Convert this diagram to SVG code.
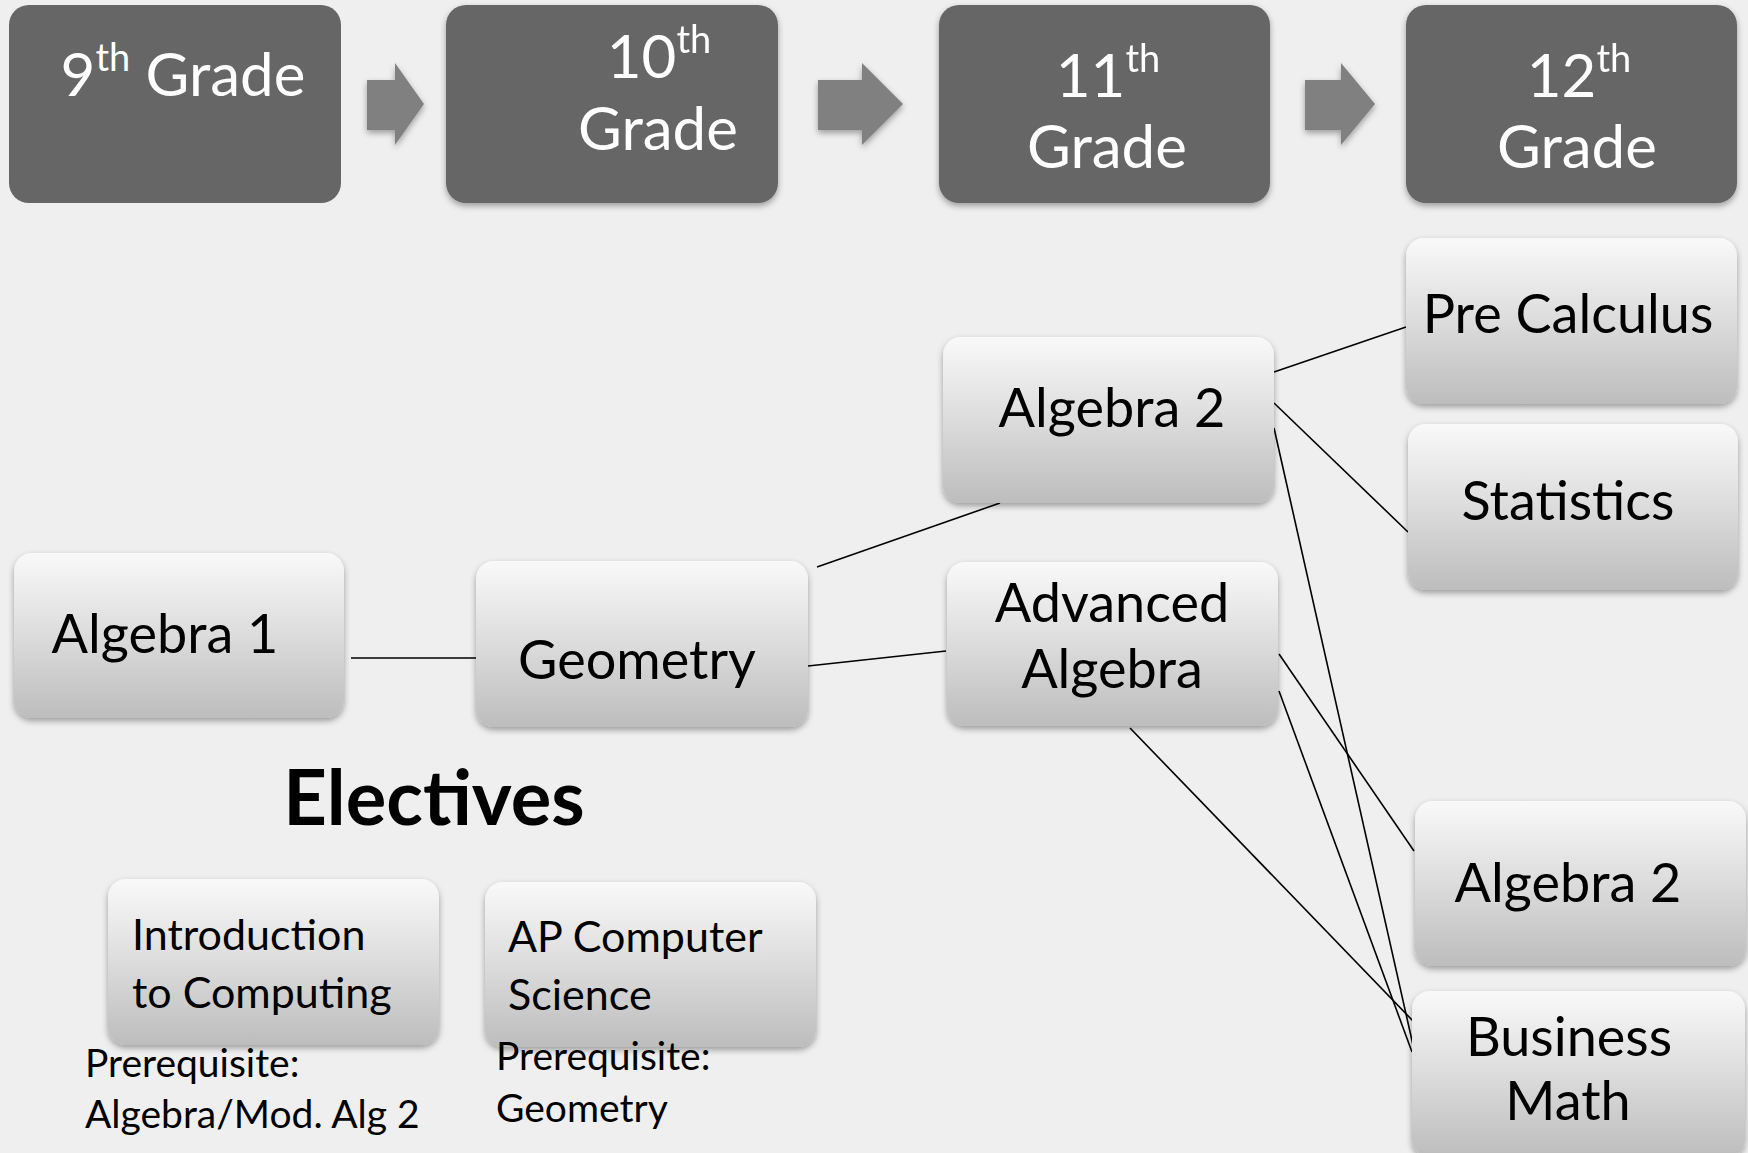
<svg xmlns="http://www.w3.org/2000/svg" width="1748" height="1153" viewBox="0 0 1748 1153">
<defs>
<linearGradient id="lg" x1="0" y1="0" x2="0" y2="1">
<stop offset="0" stop-color="#f9f9f9"/>
<stop offset="0.5" stop-color="#dcdcdc"/>
<stop offset="1" stop-color="#bdbdbd"/>
</linearGradient>
<filter id="sh" x="-10%" y="-10%" width="120%" height="130%">
<feDropShadow dx="0" dy="3" stdDeviation="3" flood-color="#000" flood-opacity="0.35"/>
</filter>
</defs>
<style>
.dark{fill:#666666}
.light{fill:url(#lg);filter:url(#sh)}
.arrow{fill:#808080;filter:url(#sh)}
.gt{font-family:Lato,"Liberation Sans",sans-serif;font-size:60px;fill:#ffffff;text-anchor:middle}
.nt{font-family:Lato,"Liberation Sans",sans-serif;font-size:54px;fill:#000000;text-anchor:middle}
.et{font-family:Lato,"Liberation Sans",sans-serif;font-size:43px;fill:#000000}
.pt{font-family:Lato,"Liberation Sans",sans-serif;font-size:39px;fill:#000000}
.ht{font-family:Lato,"Liberation Sans",sans-serif;font-size:76px;font-weight:bold;fill:#000000;text-anchor:middle}
.conn line{stroke:#000000;stroke-width:1.6}
</style>
<rect x="0" y="0" width="1748" height="1153" fill="#efefef"/>

<g id="grade9">
<rect class="dark" x="9" y="5" width="332" height="198" rx="20"/>
<text class="gt" x="183" y="96">9<tspan font-size="38" dy="-25">th</tspan><tspan dy="25"> Grade</tspan></text>
</g>
<g id="arrow1"><polygon class="arrow" points="367,80 395,80 395,63 424,104 395,145 395,130 367,130"/></g>
<g id="grade10" filter="url(#sh)">
<rect class="dark" x="446" y="5" width="332" height="198" rx="20"/>
<text class="gt" x="659" y="78">10<tspan font-size="38" dy="-25">th</tspan></text>
<text class="gt" x="658" y="150">Grade</text>
</g>
<g id="arrow2"><polygon class="arrow" points="818,80 862,80 862,63 903,104 862,145 862,130 818,130"/></g>
<g id="grade11" filter="url(#sh)">
<rect class="dark" x="939" y="5" width="331" height="198" rx="20"/>
<text class="gt" x="1108" y="97">11<tspan font-size="38" dy="-25">th</tspan></text>
<text class="gt" x="1107" y="168">Grade</text>
</g>
<g id="arrow3"><polygon class="arrow" points="1305,80 1341,80 1341,63 1375,104 1341,145 1341,130 1305,130"/></g>
<g id="grade12" filter="url(#sh)">
<rect class="dark" x="1406" y="5" width="331" height="198" rx="20"/>
<text class="gt" x="1579" y="97">12<tspan font-size="38" dy="-25">th</tspan></text>
<text class="gt" x="1577" y="168">Grade</text>
</g>

<g id="connectors" class="conn">
<line x1="351" y1="658" x2="476" y2="658"/>
<line x1="817" y1="567" x2="1000" y2="503"/>
<line x1="808" y1="666" x2="946" y2="651"/>
<line x1="1274" y1="372" x2="1406" y2="327"/>
<line x1="1274" y1="403" x2="1408" y2="532"/>
<line x1="1274" y1="428" x2="1413" y2="1045"/>
<line x1="1279" y1="654" x2="1414" y2="851"/>
<line x1="1279" y1="691" x2="1412" y2="1052"/>
<line x1="1130" y1="728" x2="1413" y2="1021"/>
</g>

<g id="algebra1">
<rect class="light" x="14" y="553" width="330" height="165" rx="18"/>
<text class="nt" x="165" y="653">Algebra 1</text>
</g>
<g id="geometry">
<rect class="light" x="476" y="561" width="332" height="166" rx="18"/>
<text class="nt" x="637" y="679">Geometry</text>
</g>
<g id="algebra2-11">
<rect class="light" x="943" y="337" width="331" height="166" rx="18"/>
<text class="nt" x="1112" y="427">Algebra 2</text>
</g>
<g id="advanced-algebra">
<rect class="light" x="947" y="562" width="331" height="164" rx="18"/>
<text class="nt" x="1112" y="622">Advanced</text>
<text class="nt" x="1112" y="688">Algebra</text>
</g>
<g id="pre-calculus">
<rect class="light" x="1406" y="238" width="331" height="166" rx="18"/>
<text class="nt" x="1568" y="333">Pre Calculus</text>
</g>
<g id="statistics">
<rect class="light" x="1408" y="424" width="330" height="166" rx="18"/>
<text class="nt" x="1568" y="520">Statistics</text>
</g>
<g id="algebra2-12">
<rect class="light" x="1415" y="801" width="331" height="165" rx="18"/>
<text class="nt" x="1568" y="902">Algebra 2</text>
</g>
<g id="business-math">
<rect class="light" x="1412" y="991" width="333" height="166" rx="18"/>
<text class="nt" x="1569" y="1056">Business</text>
<text class="nt" x="1568" y="1120">Math</text>
</g>

<g id="electives-title">
<text class="ht" x="434" y="825">Electives</text>
</g>
<g id="intro-computing">
<rect class="light" x="108" y="879" width="331" height="166" rx="18"/>
<text class="et" x="132" y="950">Introduction</text>
<text class="et" x="132" y="1008">to Computing</text>
</g>
<g id="ap-cs">
<rect class="light" x="485" y="882" width="331" height="165" rx="18"/>
<text class="et" x="508" y="952">AP Computer</text>
<text class="et" x="508" y="1010">Science</text>
</g>
<g id="prereq-intro">
<text class="pt" x="85" y="1077">Prerequisite:</text>
<text class="pt" x="85" y="1128">Algebra/Mod. Alg 2</text>
</g>
<g id="prereq-ap">
<text class="pt" x="496" y="1070">Prerequisite:</text>
<text class="pt" x="496" y="1122">Geometry</text>
</g>
</svg>
